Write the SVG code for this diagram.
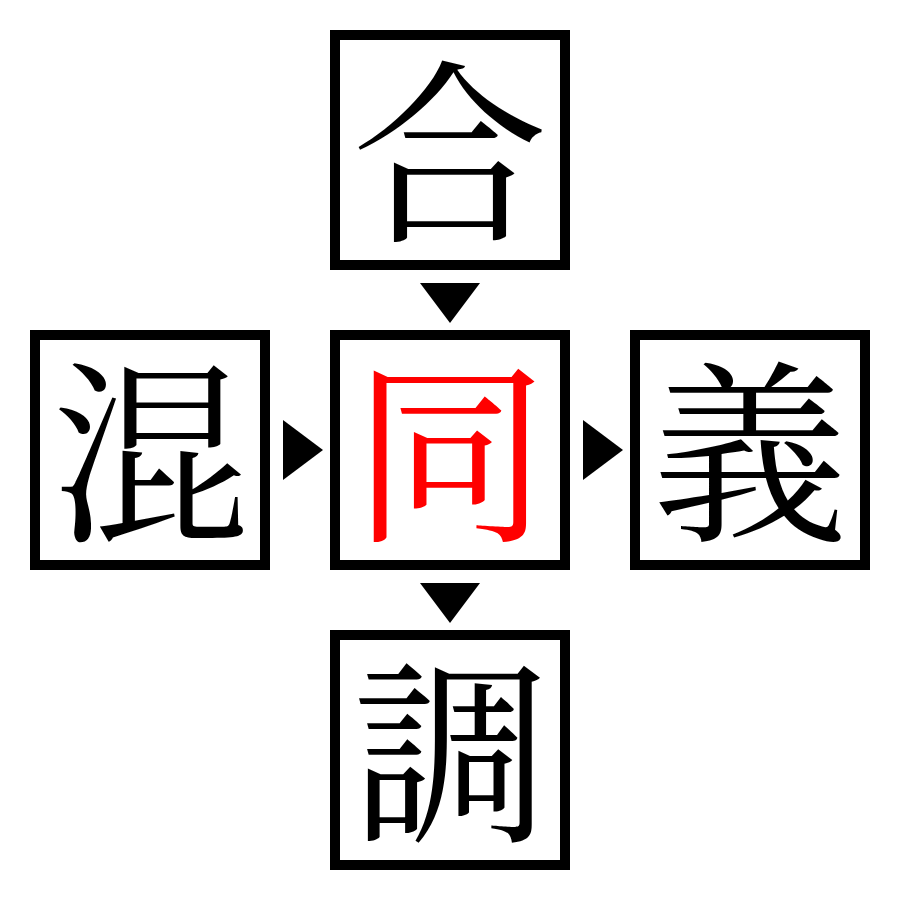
<svg xmlns="http://www.w3.org/2000/svg" width="900" height="900" viewBox="0 0 900 900">
<style>
.box{fill:#fff;stroke:#000;stroke-width:10}
.ch{font-family:"Noto Serif CJK JP","Noto Sans CJK JP",serif;font-size:196px;text-anchor:middle;dominant-baseline:central;fill:#000}
.red{fill:#f00}
.arr{fill:#000}
</style>
<rect width="900" height="900" fill="#fff"/>
<g id="connectors">
<polygon class="arr" points="420,283 480,283 450,323"/>
<polygon class="arr" points="283,420 323,450 283,480"/>
<polygon class="arr" points="583,420 623,450 583,480"/>
<polygon class="arr" points="420,583 480,583 450,623"/>
</g>
<g id="node-top"><rect class="box" x="335" y="35" width="230" height="230"/><text class="ch" x="450" y="141">合</text></g>
<g id="node-left"><rect class="box" x="35" y="335" width="230" height="230"/><text class="ch" x="150" y="441">混</text></g>
<g id="node-center"><rect class="box" x="335" y="335" width="230" height="230"/><text class="ch red" x="450" y="441">同</text></g>
<g id="node-right"><rect class="box" x="635" y="335" width="230" height="230"/><text class="ch" x="750" y="441">義</text></g>
<g id="node-bottom"><rect class="box" x="335" y="635" width="230" height="230"/><text class="ch" x="450" y="741">調</text></g>
</svg>
